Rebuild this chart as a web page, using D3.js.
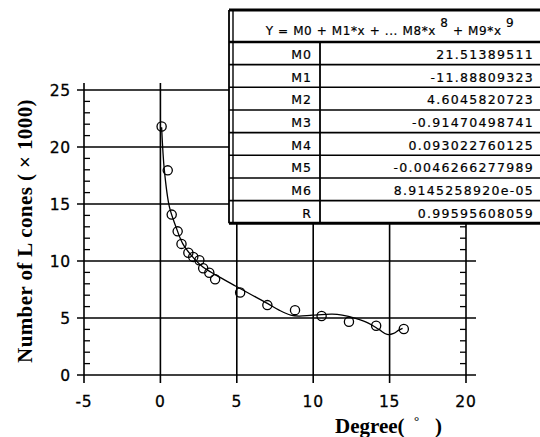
<!DOCTYPE html>
<html>
<head>
<meta charset="utf-8">
<script src="https://cdn.jsdelivr.net/npm/d3@7"></script>
<style>
  body { margin: 0; background: #fff; }
  svg { display: block; }
</style>
</head>
<body>
<div id="chart"></div>
<script>
// observed cone counts (x1000) by eccentricity
let degrees = [0.08, 0.48, 0.74, 1.13, 1.38, 1.83, 2.15, 2.55, 2.8, 3.2, 3.58, 5.22, 7.0, 8.81, 10.55, 12.34, 14.12, 15.93];
let cones = [21.8, 17.95, 14.07, 12.6, 11.5, 10.72, 10.36, 10.07, 9.37, 8.97, 8.4, 7.24, 6.13, 5.69, 5.17, 4.67, 4.32, 4.03];

// fitted curve
let fitDeg = [0.08, 0.26, 0.59, 1.02, 1.46, 2.11, 2.76, 3.64, 4.94, 5.81, 7.0, 7.77, 8.53, 9.07, 9.94, 11.25, 11.9, 12.77, 13.64, 14.3, 14.84, 15.27, 15.6, 15.85];
let fitVal = [21.74, 17.95, 14.74, 12.99, 11.53, 10.36, 9.49, 8.76, 7.79, 7.15, 6.28, 5.69, 5.25, 5.17, 5.25, 5.34, 5.25, 4.96, 4.53, 4.0, 3.56, 3.65, 3.94, 4.09];

let xTicks = [-5, 0, 5, 10, 15, 20];
let yTicks = [0, 5, 10, 15, 20, 25];

let coefNames = ["M0", "M1", "M2", "M3", "M4", "M5", "M6", "R"];
let coefValues = ["21.51389511", "-11.88809323", "4.6045820723", "-0.91470498741",
  "0.093022760125", "-0.0046266277989", "8.9145258920e-05", "0.99595608059"];

let w = 540, h = 437;

let svg = d3.select("#chart").append("svg")
  .attr("width", w)
  .attr("height", h);

let x = d3.scaleLinear().domain([-5, 20]).range([84, 466]);
let y = d3.scaleLinear().domain([0, 25]).range([375, 90]);

let sans = "DejaVu Sans";
let serif = "Liberation Serif";

// grid
let grid = svg.append("g").attr("stroke", "#000").attr("stroke-width", 1.6);

grid.selectAll("line.h")
  .data(yTicks)
  .enter().append("line")
  .attr("class", "h")
  .attr("x1", x(-5) - 7)
  .attr("x2", x(20) + 10)
  .attr("y1", (d) => y(d))
  .attr("y2", (d) => y(d));

grid.selectAll("line.v")
  .data(xTicks)
  .enter().append("line")
  .attr("class", "v")
  .attr("x1", (d) => x(d))
  .attr("x2", (d) => x(d))
  .attr("y1", y(25) - 7)
  .attr("y2", y(0) + 8);

// minor ticks on left and right axes
let minor = d3.range(1, 25).filter((d) => d % 5 != 0);

grid.selectAll("line.ml")
  .data(minor)
  .enter().append("line")
  .attr("class", "ml")
  .attr("stroke-width", 1.3)
  .attr("x1", x(-5))
  .attr("x2", x(-5) + 6)
  .attr("y1", (d) => y(d))
  .attr("y2", (d) => y(d));

grid.selectAll("line.mr")
  .data(minor)
  .enter().append("line")
  .attr("class", "mr")
  .attr("stroke-width", 1.3)
  .attr("x1", x(20) - 6)
  .attr("x2", x(20))
  .attr("y1", (d) => y(d))
  .attr("y2", (d) => y(d));

// tick labels
svg.append("g")
  .selectAll("text")
  .data(yTicks)
  .enter().append("text")
  .attr("x", 71)
  .attr("y", (d) => y(d) + 5.5)
  .attr("text-anchor", "end")
  .attr("font-family", sans)
  .attr("font-size", 15.5)
  .attr("letter-spacing", 0.8)
  .attr("stroke", "#000")
  .attr("stroke-width", 0.3)
  .text((d) => d);

svg.append("g")
  .selectAll("text")
  .data(xTicks)
  .enter().append("text")
  .attr("x", (d) => x(d))
  .attr("y", 407)
  .attr("text-anchor", "middle")
  .attr("font-family", sans)
  .attr("font-size", 15.5)
  .attr("letter-spacing", 0.8)
  .attr("stroke", "#000")
  .attr("stroke-width", 0.3)
  .text((d) => d);

// fitted curve
let line = d3.line()
  .x((d) => x(d[0]))
  .y((d) => y(d[1]))
  .curve(d3.curveCatmullRom.alpha(0.5));

svg.append("path")
  .datum(d3.zip(fitDeg, fitVal))
  .attr("d", line)
  .attr("fill", "none")
  .attr("stroke", "#000")
  .attr("stroke-width", 1.3);

// data points
svg.append("g")
  .selectAll("circle")
  .data(d3.zip(degrees, cones))
  .enter().append("circle")
  .attr("cx", (d) => x(d[0]))
  .attr("cy", (d) => y(d[1]))
  .attr("r", 4.6)
  .attr("fill", "none")
  .attr("stroke", "#000")
  .attr("stroke-width", 1.3);

// axis titles
svg.append("text")
  .attr("transform", "translate(32,231) rotate(-90)")
  .attr("text-anchor", "middle")
  .attr("font-family", serif)
  .attr("font-weight", "bold")
  .attr("font-size", 21)
  .attr("letter-spacing", 0.4)
  .text("Number of L cones ( \u00d7 1000)");

let xt = svg.append("text")
  .attr("x", 335)
  .attr("y", 433)
  .attr("font-family", serif)
  .attr("font-weight", "bold")
  .attr("font-size", 21);
xt.append("tspan").text("Degree(");
xt.append("tspan").attr("x", 414).attr("y", 425).attr("font-size", 13).text("\u00b0");
xt.append("tspan").attr("x", 435).attr("y", 433).text(")");

// coefficient table
let tb = { left: 229, top: 10, right: 548, head: 42, rowH: 22.66, col: 320 };
let tBottom = tb.head + tb.rowH * coefNames.length;

let table = svg.append("g");

table.append("rect")
  .attr("x", tb.left)
  .attr("y", tb.top)
  .attr("width", tb.right - tb.left)
  .attr("height", tBottom - tb.top)
  .attr("fill", "#fff");

let hdr = table.append("text")
  .attr("x", 390)
  .attr("y", 35)
  .attr("text-anchor", "middle")
  .attr("font-family", sans)
  .attr("font-size", 12)
  .attr("letter-spacing", 0.6)
  .attr("stroke", "#000")
  .attr("stroke-width", 0.2);
hdr.append("tspan").text("Y = M0 + M1*x + ... M8*x ");
hdr.append("tspan").attr("dy", -8).text("8");
hdr.append("tspan").attr("dy", 8).text(" + M9*x ");
hdr.append("tspan").attr("dy", -8).text("9");

let rows = table.selectAll("g.row")
  .data(d3.zip(coefNames, coefValues))
  .enter().append("g")
  .attr("class", "row")
  .attr("transform", (d, i) => "translate(0," + (tb.head + i * tb.rowH) + ")");

rows.append("line")
  .attr("x1", tb.left)
  .attr("x2", tb.right)
  .attr("y1", tb.rowH)
  .attr("y2", tb.rowH)
  .attr("stroke", "#000")
  .attr("stroke-width", 1.6);

rows.append("text")
  .attr("x", 312)
  .attr("y", 17)
  .attr("text-anchor", "end")
  .attr("font-family", sans)
  .attr("font-size", 12.5)
  .attr("letter-spacing", 1)
  .attr("stroke", "#000")
  .attr("stroke-width", 0.2)
  .text((d) => d[0]);

rows.append("text")
  .attr("x", 534)
  .attr("y", 17)
  .attr("text-anchor", "end")
  .attr("font-family", sans)
  .attr("font-size", 12.5)
  .attr("letter-spacing", 1.3)
  .attr("stroke", "#000")
  .attr("stroke-width", 0.2)
  .text((d) => d[1]);

// borders
table.append("line")
  .attr("x1", tb.left).attr("x2", tb.right)
  .attr("y1", tb.top).attr("y2", tb.top)
  .attr("stroke", "#000").attr("stroke-width", 3);
table.append("line")
  .attr("x1", tb.left).attr("x2", tb.right)
  .attr("y1", tb.head).attr("y2", tb.head)
  .attr("stroke", "#000").attr("stroke-width", 2.6);
table.append("line")
  .attr("x1", tb.left).attr("x2", tb.right)
  .attr("y1", tBottom).attr("y2", tBottom)
  .attr("stroke", "#000").attr("stroke-width", 3);
table.append("line")
  .attr("x1", tb.left).attr("x2", tb.left)
  .attr("y1", tb.top).attr("y2", tBottom)
  .attr("stroke", "#000").attr("stroke-width", 1.8);
table.append("line")
  .attr("x1", tb.left + 4).attr("x2", tb.left + 4)
  .attr("y1", tb.top).attr("y2", tBottom)
  .attr("stroke", "#000").attr("stroke-width", 1.4);
table.append("line")
  .attr("x1", tb.col).attr("x2", tb.col)
  .attr("y1", tb.head).attr("y2", tBottom)
  .attr("stroke", "#000").attr("stroke-width", 1.8);
</script>
</body>
</html>
